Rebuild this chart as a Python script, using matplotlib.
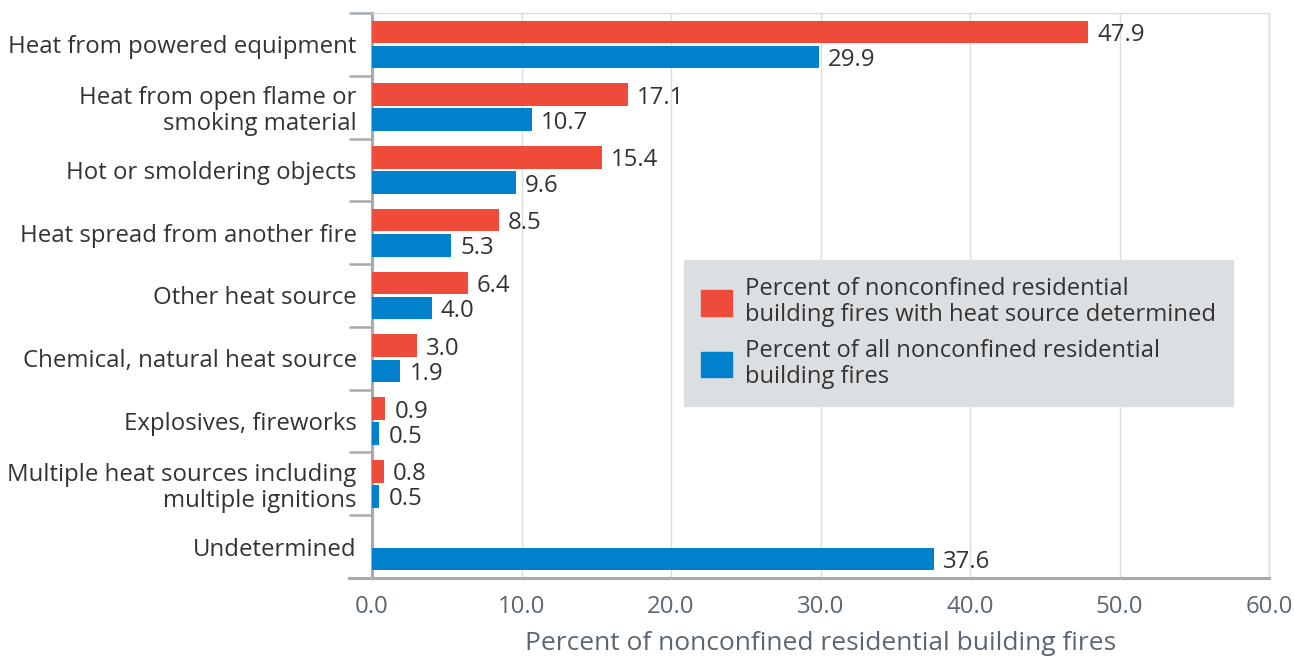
import matplotlib.pyplot as plt
from matplotlib.ticker import FixedLocator
from matplotlib.patches import Patch

# Data
categories = [
    'Heat from powered equipment',
    'Heat from open flame or\nsmoking material',
    'Hot or smoldering objects',
    'Heat spread from another fire',
    'Other heat source',
    'Chemical, natural heat source',
    'Explosives, fireworks',
    'Multiple heat sources including\nmultiple ignitions',
    'Undetermined',
]
determined = [47.9, 17.1, 15.4, 8.5, 6.4, 3.0, 0.9, 0.8, None]
all_fires = [29.9, 10.7, 9.6, 5.3, 4.0, 1.9, 0.5, 0.5, 37.6]
x_ticks = [0, 10, 20, 30, 40, 50, 60]

red = '#ee4b3a'
blue = '#0081cc'
txt = '#333333'
axis_gray = '#5c6670'
fs = 17.3

plt.rcParams['font.family'] = ['Open Sans', 'DejaVu Sans']

fig = plt.figure(figsize=(12.94, 6.58), dpi=100)
ax = fig.add_axes([372 / 1294, 1 - 578 / 658, (1269 - 372) / 1294, (578 - 13) / 658])

pos = list(range(len(categories)))
h = 0.36
for i in pos:
    if determined[i] is not None:
        ax.barh(i - 0.2, determined[i], height=h, color=red, zorder=3)
        ax.text(determined[i] + 0.6, i - 0.2, f'{determined[i]:.1f}', va='center_baseline',
                ha='left', fontsize=fs, color=txt)
    ax.barh(i + 0.2, all_fires[i], height=h, color=blue, zorder=3)
    ax.text(all_fires[i] + 0.6, i + 0.2, f'{all_fires[i]:.1f}', va='center_baseline',
            ha='left', fontsize=fs, color=txt)

ax.set_xlim(0, 60)
ax.set_ylim(len(categories) - 0.5, -0.5)
ax.set_xticks(x_ticks)
ax.set_xticklabels([f'{v:.1f}' for v in x_ticks], fontsize=fs, color=axis_gray)
ax.tick_params(axis='x', length=0, pad=12)
ax.grid(axis='x', color='#dcdcdc', linewidth=1, zorder=0)

ax.set_yticks(pos)
ax.set_yticklabels(categories, fontsize=fs, color=txt, linespacing=1.1, va='center_baseline')
ax.tick_params(axis='y', which='major', length=0, pad=11)
ax.yaxis.set_minor_locator(FixedLocator([k - 0.5 for k in range(len(categories))]))
ax.tick_params(axis='y', which='minor', length=16.5, width=1.8, color='#a7abaf')

for side in ['left', 'bottom']:
    ax.spines[side].set_color('#a7abaf')
    ax.spines[side].set_linewidth(2.2)
for side in ['top', 'right']:
    ax.spines[side].set_color('#dcdcdc')
    ax.spines[side].set_linewidth(1)

# bottom spine extends left like the category separators
ax.plot([-23 * 60 / 897, 0], [len(categories) - 0.5] * 2,
        color='#a7abaf', linewidth=2.2, clip_on=False, zorder=4)

ax.set_xlabel('Percent of nonconfined residential building fires', fontsize=19,
              color=axis_gray, labelpad=9)

# Legend
handles = [Patch(color=red), Patch(color=blue)]
leg = ax.legend(handles,
                ['Percent of nonconfined residential\nbuilding fires with heat source determined',
                 'Percent of all nonconfined residential\nbuilding fires'],
                loc='upper left', bbox_to_anchor=((684 - 372) / 897, 1 - (260 - 13) / 565),
                frameon=True, fancybox=False, facecolor='#dcdfe2',
                edgecolor='#dcdfe2', framealpha=1, handlelength=1.3, handleheight=1.25,
                borderpad=0.72, labelspacing=0.5, handletextpad=0.55, borderaxespad=0,
                prop={'size': 17.1})
for t in leg.get_texts():
    t.set_color(txt)
    t.set_linespacing(1.1)

fig.savefig('out.png', dpi=100)
